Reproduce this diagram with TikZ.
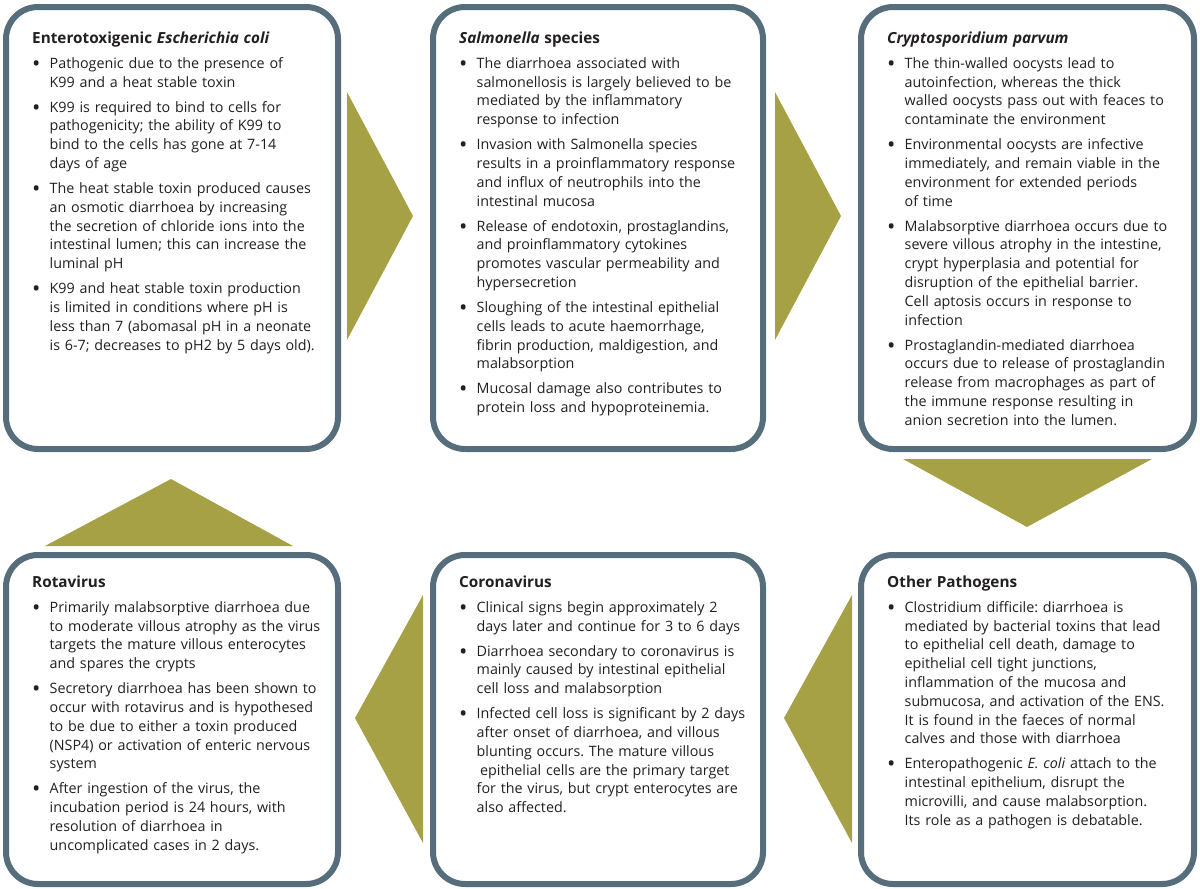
\documentclass[tikz,border=0pt]{standalone}
\usepackage{fontspec}
\setmainfont{Open Sans}
\frenchspacing
\definecolor{frame}{RGB}{86,109,123}
\definecolor{olive}{RGB}{166,161,69}
\definecolor{ink}{RGB}{35,31,32}
\newcommand{\ttl}[1]{\noindent\strut{\fontsize{15.3}{18.8}\selectfont\textbf{#1}}\strut\par\vspace{1.2pt}}
\newcommand{\bul}[1]{\par\vspace{5.2pt}\noindent\makebox[17.5pt][l]{\raisebox{-2.9pt}{\scalebox{1.55}{\textbullet}}}\parbox[t]{312pt}{\raggedright\frenchspacing\strut #1\strut}\par}
\begin{document}
\begin{tikzpicture}[x=1pt,y=-1pt,
  box/.style={draw=frame, line width=6pt, rounded corners=32pt, inner sep=0pt, fill=white},
  txt/.style={anchor=north west, inner sep=0pt, text width=330pt, align=left,
              font=\fontsize{14.3}{18.8}\selectfont, text=ink},
  tri/.style={fill=olive}]
\useasboundingbox (0,0) rectangle (1200,889);
% boxes
\node[box, minimum width=332pt, minimum height=442pt] (b1) at (172,228) {};
\node[box, minimum width=330pt, minimum height=442pt] (b2) at (598,228) {};
\node[box, minimum width=333pt, minimum height=442pt] (b3) at (1027.5,228) {};
\node[box, minimum width=332pt, minimum height=329pt] (b4) at (172,719.5) {};
\node[box, minimum width=330pt, minimum height=329pt] (b5) at (598,719.5) {};
\node[box, minimum width=333pt, minimum height=329pt] (b6) at (1027.5,719.5) {};
% arrows
\fill[tri] (347,92) -- (413,216) -- (347,340) -- cycle;
\fill[tri] (775,92) -- (841,216) -- (775,340) -- cycle;
\fill[tri] (903,459) -- (1152,459) -- (1027,527) -- cycle;
\fill[tri] (852,595) -- (784,718) -- (852,843) -- cycle;
\fill[tri] (423,595) -- (355,718) -- (423,843) -- cycle;
\fill[tri] (45,546) -- (293,546) -- (171,479) -- cycle;
% texts
\node[txt] (t1) at (32,29.8) {%
\ttl{Enterotoxigenic \textit{Escherichia coli}}
\bul{Pathogenic due to the presence of\\K99 and a heat stable toxin}
\bul{K99 is required to bind to cells for\\pathogenicity; the ability of K99 to\\bind to the cells has gone at 7-14\\days of age}
\bul{The heat stable toxin produced causes\\an osmotic diarrhoea by increasing\\the secretion of chloride ions into the\\intestinal lumen; this can increase the\\luminal pH}
\bul{K99 and heat stable toxin production\\is limited in conditions where pH is\\less than 7 (abomasal pH in a neonate\\is 6-7; decreases to pH2 by 5 days old).}};
\node[txt] (t2) at (459,29.8) {%
\ttl{\textit{Salmonella} species}
\bul{The diarrhoea associated with\\salmonellosis is largely believed to be\\mediated by the inflammatory\\response to infection}
\bul{Invasion with Salmonella species\\results in a proinflammatory response\\and influx of neutrophils into the\\intestinal mucosa}
\bul{Release of endotoxin, prostaglandins,\\and proinflammatory cytokines\\promotes vascular permeability and\\hypersecretion}
\bul{Sloughing of the intestinal epithelial\\cells leads to acute haemorrhage,\\fibrin production, maldigestion, and\\malabsorption}
\bul{Mucosal damage also contributes to\\protein loss and hypoproteinemia.}};
\node[txt] (t3) at (887,29.8) {%
\ttl{\textit{Cryptosporidium parvum}}
\bul{The thin-walled oocysts lead to\\autoinfection, whereas the thick\\walled oocysts pass out with feaces to\\contaminate the environment}
\bul{Environmental oocysts are infective\\immediately, and remain viable in the\\environment for extended periods\\of time}
\bul{Malabsorptive diarrhoea occurs due to\\severe villous atrophy in the intestine,\\crypt hyperplasia and potential for\\disruption of the epithelial barrier.\\Cell aptosis occurs in response to\\infection}
\bul{Prostaglandin-mediated diarrhoea\\occurs due to release of prostaglandin\\release from macrophages as part of\\the immune response resulting in\\anion secretion into the lumen.}};
\node[txt] (t4) at (32,573.8) {%
\ttl{Rotavirus}
\bul{Primarily malabsorptive diarrhoea due\\to moderate villous atrophy as the virus\\targets the mature villous enterocytes\\and spares the crypts}
\bul{Secretory diarrhoea has been shown to\\occur with rotavirus and is hypothesed\\to be due to either a toxin produced\\(NSP4) or activation of enteric nervous\\system}
\bul{After ingestion of the virus, the\\incubation period is 24 hours, with\\resolution of diarrhoea in\\uncomplicated cases in 2 days.}};
\node[txt] (t5) at (459,573.8) {%
\ttl{Coronavirus}
\bul{Clinical signs begin approximately 2\\days later and continue for 3 to 6 days}
\bul{Diarrhoea secondary to coronavirus is\\mainly caused by intestinal epithelial\\cell loss and malabsorption}
\bul{Infected cell loss is significant by 2 days\\after onset of diarrhoea, and villous\\blunting occurs. The mature villous\\\hspace*{3.5pt}epithelial cells are the primary target\\for the virus, but crypt enterocytes are\\also affected.}};
\node[txt] (t6) at (887,573.8) {%
\ttl{Other Pathogens}
\bul{Clostridium difficile: diarrhoea is\\mediated by bacterial toxins that lead\\to epithelial cell death, damage to\\epithelial cell tight junctions,\\inflammation of the mucosa and\\submucosa, and activation of the ENS.\\It is found in the faeces of normal\\calves and those with diarrhoea}
\bul{Enteropathogenic \textit{E. coli} attach to the\\intestinal epithelium, disrupt the\\microvilli, and cause malabsorption.\\Its role as a pathogen is debatable.}};
\end{tikzpicture}
\end{document}
